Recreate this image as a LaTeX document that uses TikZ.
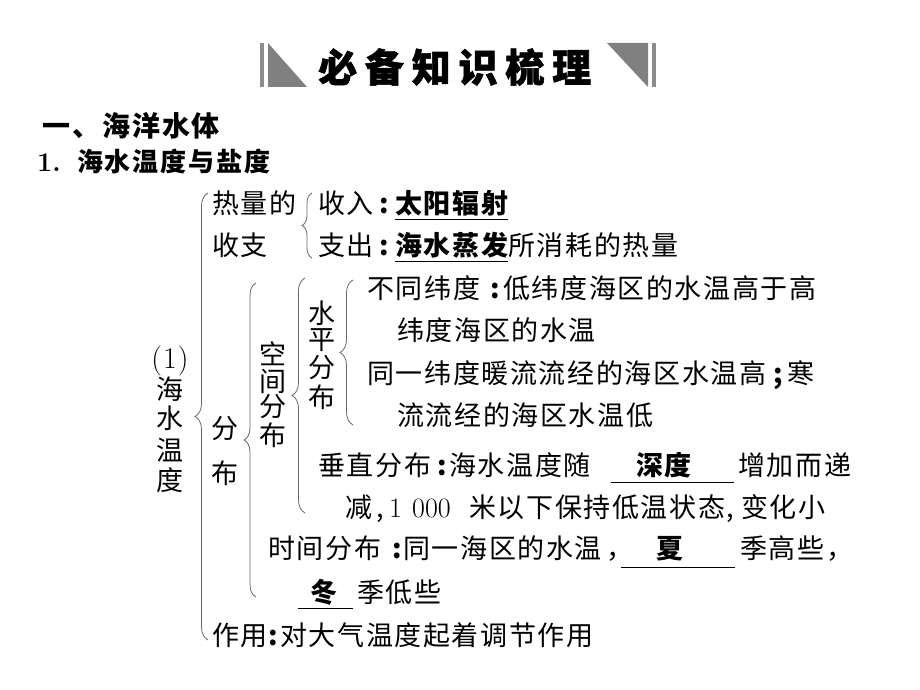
\documentclass[tikz,border=0pt]{standalone}
\usepackage{fontspec}
\usetikzlibrary{decorations.pathreplacing}
\newfontfamily\cjk[LetterSpace=6]{Noto Sans CJK SC}
\newfontfamily\cjkhd[LetterSpace=7]{Noto Sans CJK SC}
\newfontfamily\cjkti[LetterSpace=20,BoldFeatures={FakeBold=1.5}]{Noto Sans CJK SC}
\tikzset{
  txt/.style={anchor=base west, inner sep=0pt, font=\cjk\fontsize{27}{27}\selectfont},
  bld/.style={anchor=base west, inner sep=0pt, font=\cjk\fontsize{27}{27}\selectfont\bfseries},
  colon/.style={anchor=base, inner sep=0pt, font=\cjk\fontsize{27}{27}\selectfont\bfseries},
  comma/.style={anchor=base, inner sep=0pt, font=\cjk\fontsize{27}{27}\selectfont},
  col/.style={anchor=center, inner sep=0pt, font=\cjk\fontsize{27}{27}\selectfont},
  num/.style={anchor=base west, inner sep=0pt, font=\fontsize{28}{28}\selectfont},
  brc/.style={decorate, draw=black!60, line width=0.8pt},
  uline/.style={draw=black, line width=0.8pt},
  deco/.style={fill=black!50, draw=none},
}
\begin{document}
\begin{tikzpicture}[x=1pt,y=-1pt]
\useasboundingbox (0,0) rectangle (920,690);
\fill[white] (0,0) rectangle (920,690);

% title banner
\fill[black!45] (260,43) rectangle (264,87);
\fill[deco] (268,43) -- (268,87) -- (307,87) -- cycle;
\fill[deco] (607,43) -- (648,43) -- (648,87) -- cycle;
\fill[black!45] (652,43) rectangle (656,87);
\node[anchor=base west, inner sep=0pt, font=\cjkti\fontsize{39}{39}\selectfont\bfseries] (title) at (318,82) {必备知识梳理};

% headings
\node[anchor=base west, inner sep=0pt, font=\cjkhd\fontsize{28}{28}\selectfont\bfseries] (h1) at (42,136) {一、海洋水体};
\node[anchor=base west, inner sep=0pt, font=\fontsize{27}{27}\selectfont\bfseries] (h2n) at (37,171) {1.};
\node[anchor=base west, inner sep=0pt, font=\cjkhd\fontsize{26}{26}\selectfont\bfseries] (h2) at (77,171) {海水温度与盐度};

% vertical labels
\node[anchor=center, inner sep=0pt, font=\fontsize{30}{30}\selectfont] (c1) at (170,361) {(\kern1pt1\kern1pt)};
\node[col] (c2) at (170,389) {海};
\node[col] (c3) at (170,418) {水};
\node[col] (c4) at (170,450) {温};
\node[col] (c5) at (170,480) {度};

\node[col] (f1) at (225,429) {分};
\node[col] (f2) at (225,473) {布};

\node[col] (k1) at (273,354) {空};
\node[col] (k2) at (273,381) {间};
\node[col] (k3) at (273,407) {分};
\node[col] (k4) at (273,435) {布};

\node[col] (s1) at (322,313) {水};
\node[col] (s2) at (322,340) {平};
\node[col] (s3) at (322,368) {分};
\node[col] (s4) at (322,397) {布};

% braces
\draw[brc, decoration={brace, amplitude=13pt}] (208,640) -- (208,193);
\draw[brc, decoration={brace, amplitude=10pt}] (312,258) -- (312,193);
\draw[brc, decoration={brace, amplitude=12pt}] (256,597) -- (256,283);
\draw[brc, decoration={brace, amplitude=13pt}] (305,513) -- (305,278);
\draw[brc, decoration={brace, amplitude=13pt}] (353,425) -- (353,280);

% row 1
\node[txt] (a1) at (212,213) {热量的};
\node[txt] (a2) at (318,213) {收入};
\node[colon] (a3) at (384,213) {:};
\node[bld] (a4) at (395,213) {太阳辐射};
\coordinate (u1a) at (395,219);
\coordinate (u1b) at (508,219);
\draw[uline] (u1a) -- (u1b);

% row 2
\node[txt] (b1) at (212,255) {收支};
\node[txt] (b2) at (318,255) {支出};
\node[colon] (b3) at (384,255) {:};
\node[bld] (b4) at (395,255) {海水蒸发};
\node[txt] (b5) at (508,255) {所消耗的热量};
\coordinate (u2a) at (395,261);
\coordinate (u2b) at (508,261);
\draw[uline] (u2a) -- (u2b);

% row 3-6
\node[txt] (d1) at (367,298) {不同纬度};
\node[colon] (d2) at (495,298) {:};
\node[txt] (d3) at (503,298) {低纬度海区的水温高于高};
\node[txt] (e1) at (397,340) {纬度海区的水温};
\node[txt] (g1) at (367,383) {同一纬度暖流流经的海区水温高};
\node[colon] (g2) at (778,383) {;};
\node[txt] (g3) at (787,383) {寒};
\node[txt] (i1) at (397,425) {流流经的海区水温低};

% row 7-8
\node[txt] (j1) at (318,475) {垂直分布};
\node[colon] (j2) at (442,475) {:};
\node[txt] (j3) at (449,475) {海水温度随};
\node[bld] (j4) at (636,475) {深度};
\node[txt] (j5) at (738,475) {增加而递};
\coordinate (u3a) at (611,482);
\coordinate (u3b) at (734,482);
\draw[uline] (u3a) -- (u3b);

\node[txt] (m1) at (345,517) {减};
\node[comma] (m2) at (380,517) {,};
\node[num] (m3) at (389,517) {1};
\node[num] (m4) at (412,517) {000};
\node[txt] (m5) at (469,517) {米以下保持低温状态};
\node[comma] (m6) at (730,517) {,};
\node[txt] (m7) at (741,517) {变化小};

% row 9-10
\node[txt] (n1) at (268,558) {时间分布};
\node[colon] (n2) at (397,558) {:};
\node[txt] (n3) at (403,558) {同一海区的水温};
\node[txt] (n4) at (606,558) {，};
\node[bld] (n5) at (656,558) {夏};
\node[txt] (n6) at (740,558) {季高些，};
\coordinate (u4a) at (621,567);
\coordinate (u4b) at (735,567);
\draw[uline] (u4a) -- (u4b);

\node[bld] (p1) at (310,602) {冬};
\node[txt] (p2) at (357,602) {季低些};
\coordinate (u5a) at (298,608);
\coordinate (u5b) at (353,608);
\draw[uline] (u5a) -- (u5b);

% row 11
\node[txt] (q1) at (212,645) {作用};
\node[colon] (q2) at (273,645) {:};
\node[txt] (q3) at (280,645) {对大气温度起着调节作用};
\end{tikzpicture}
\end{document}
